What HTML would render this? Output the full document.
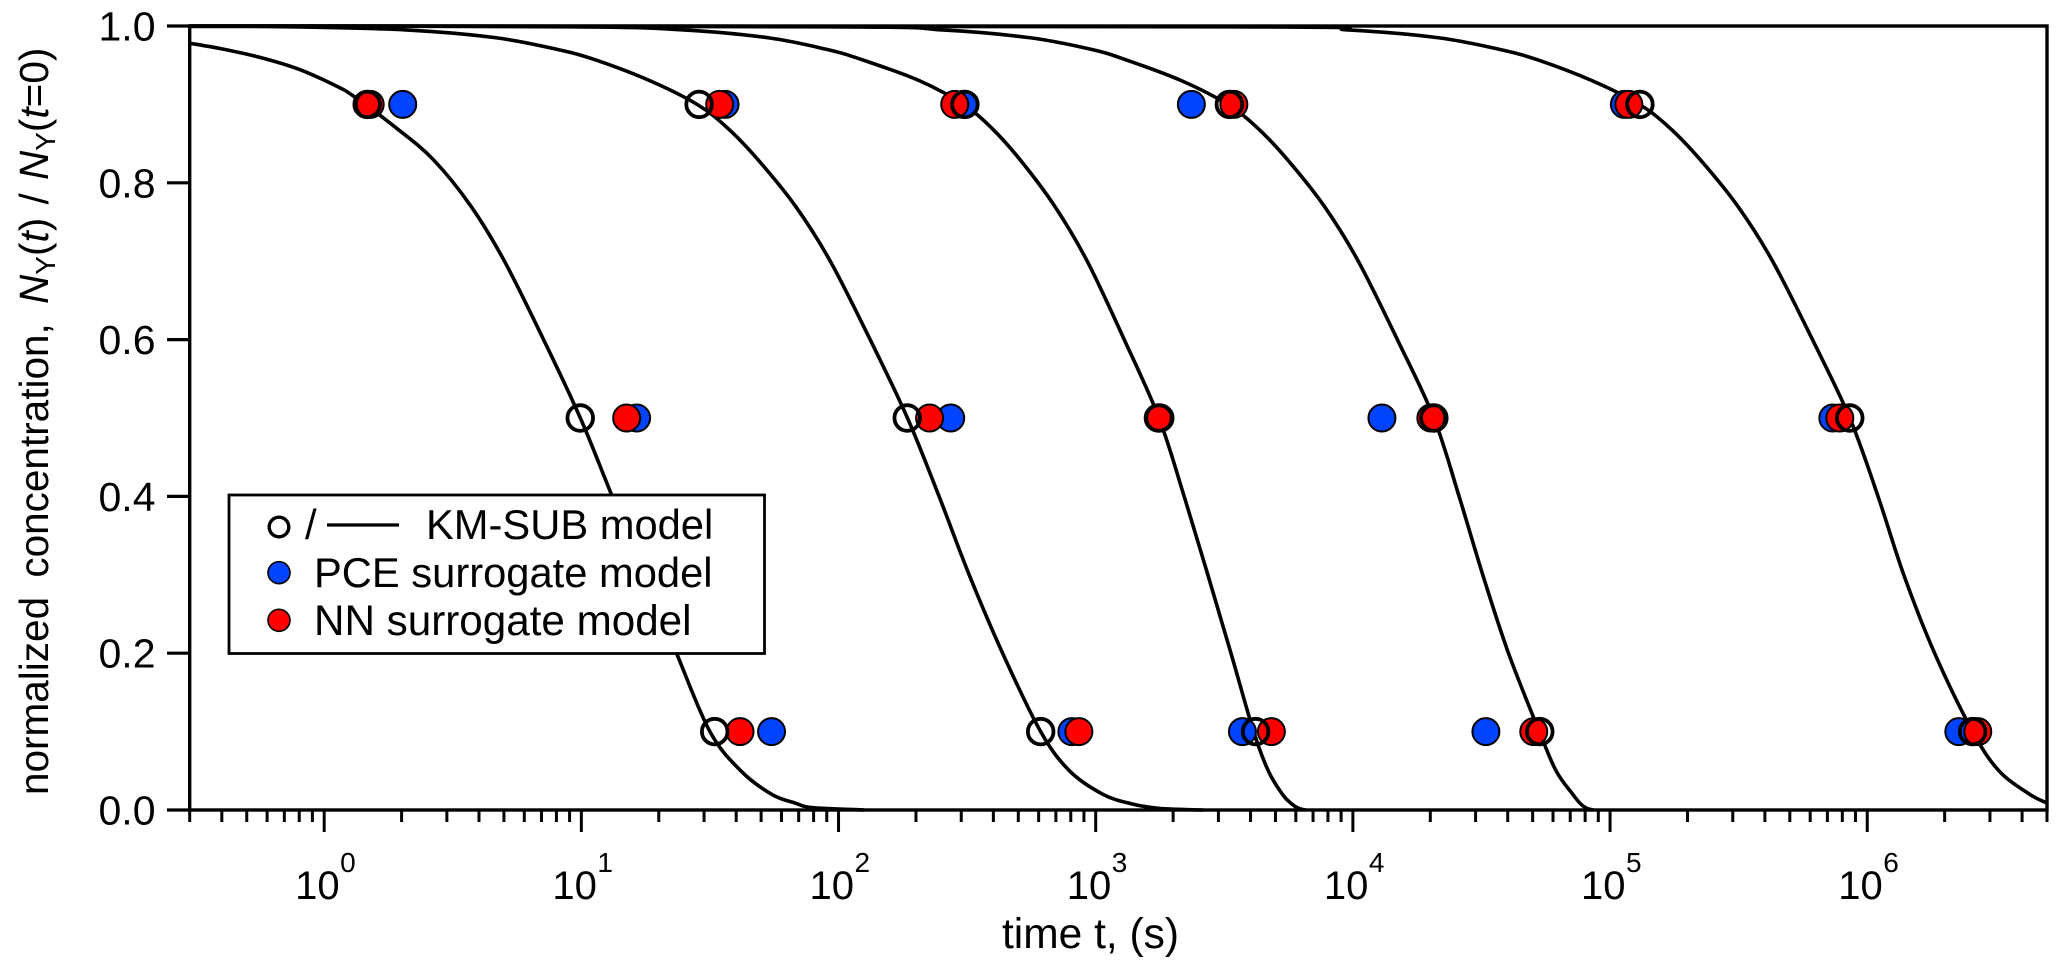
<!DOCTYPE html>
<html>
<head>
<meta charset="utf-8">
<title>Normalized concentration vs time</title>
<style>
html,body{margin:0;padding:0;background:#fff;}
svg{display:block;}
text{font-family:"Liberation Sans",Arial,sans-serif;fill:#000;white-space:pre;}
</style>
</head>
<body>
<svg id="chart" xmlns="http://www.w3.org/2000/svg" width="2067" height="969" viewBox="0 0 2067 969">
  <rect x="0" y="0" width="2067" height="969" fill="#fff"/>
  <g id="curves"></g>
  <g id="axes"></g>
  <g id="points"></g>
  <text x="1002" y="948" font-size="42.5">time t, (s)</text>
  <text transform="translate(48,795) rotate(-90)" font-size="40.5" word-spacing="8">normalized concentration, <tspan word-spacing="2"><tspan font-style="italic">N</tspan><tspan font-size="28" dy="7">Y</tspan><tspan dy="-7">(</tspan><tspan font-style="italic">t</tspan>) / <tspan font-style="italic">N</tspan><tspan font-size="28" dy="7">Y</tspan><tspan dy="-7">(</tspan><tspan font-style="italic">t</tspan>=0)</tspan></text>
  <g>
    <rect x="229" y="495" width="535.5" height="158.5" fill="#fff" stroke="#000" stroke-width="2.8"/>
    <circle cx="279" cy="527" r="9.8" fill="none" stroke="#000" stroke-width="3.4"/>
    <text x="305" y="539" font-size="41.7">/</text>
    <line x1="327" y1="525" x2="399" y2="525" stroke="#000" stroke-width="3.2"/>
    <text x="426" y="539" font-size="41.7">KM-SUB model</text>
    <circle cx="279" cy="572.7" r="11" fill="#0044ff" stroke="#000" stroke-width="1.6"/>
    <text x="314" y="587" font-size="41.7">PCE surrogate model</text>
    <circle cx="279" cy="620.3" r="11" fill="#ff0000" stroke="#000" stroke-width="1.6"/>
    <text x="314" y="635" font-size="42.2">NN surrogate model</text>
  </g>
</svg>
<script>
// ---------- data ----------
const yTickValues = [0, 0.2, 0.4, 0.6, 0.8, 1.0];
const yTickLabels = ["0.0", "0.2", "0.4", "0.6", "0.8", "1.0"];
const xDecadeExponents = [0, 1, 2, 3, 4, 5, 6];
const xMinorMultipliers = [2, 3, 4, 5, 6, 7, 8, 9];
const xDomain = [0.3, 5e6];
const yDomain = [0, 1];

// KM-SUB curves: log10(time) and normalized concentration
const curve1LogT = [-0.523, -0.4, -0.25, -0.1, 0.05, 0.112, 0.28, 0.426, 0.571, 0.701, 0.853, 0.996, 1.12, 1.245, 1.37, 1.5, 1.62, 1.74, 1.83, 1.9, 2.1];
const curve1Conc = [0.978, 0.971, 0.96, 0.945, 0.923, 0.911, 0.87, 0.829, 0.77, 0.7, 0.6, 0.5, 0.4, 0.3, 0.2, 0.1, 0.05, 0.02, 0.009, 0.003, 0];
const curve2LogT = [-0.523, -0.132, 0.318, 0.668, 0.908, 1.057, 1.268, 1.45, 1.568, 1.688, 1.833, 1.968, 2.123, 2.268, 2.391, 2.508, 2.638, 2.786, 2.898, 3.028, 3.138, 3.248, 3.418];
const curve2Conc = [0.9995, 0.999, 0.995, 0.985, 0.97, 0.9566, 0.93, 0.9, 0.87, 0.829, 0.77, 0.7, 0.6, 0.5, 0.4, 0.3, 0.2, 0.1, 0.05, 0.02, 0.008, 0.002, 0];
const curve3LogT = [-0.523, 0.966, 1.396, 1.726, 1.956, 2.095, 2.316, 2.485, 2.595, 2.707, 2.841, 2.967, 3.111, 3.246, 3.344, 3.436, 3.526, 3.614, 3.671, 3.726, 3.761, 3.79, 3.816];
const curve3Conc = [1, 0.999, 0.995, 0.985, 0.97, 0.9566, 0.93, 0.9, 0.87, 0.829, 0.77, 0.7, 0.6, 0.5, 0.4, 0.3, 0.2, 0.1, 0.05, 0.02, 0.008, 0.002, 0];
const curve4LogT = [-0.523, 1.965, 2.405, 2.745, 2.985, 3.12, 3.335, 3.513, 3.629, 3.747, 3.889, 4.021, 4.173, 4.315, 4.413, 4.505, 4.605, 4.725, 4.79, 4.855, 4.885, 4.91, 4.935];
const curve4Conc = [1, 0.999, 0.995, 0.985, 0.97, 0.9566, 0.93, 0.9, 0.87, 0.829, 0.77, 0.7, 0.6, 0.5, 0.4, 0.3, 0.2, 0.1, 0.05, 0.02, 0.008, 0.002, 0];
const curve5LogT = [-0.523, 3.532, 3.982, 4.332, 4.572, 4.721, 4.932, 5.114, 5.232, 5.352, 5.497, 5.632, 5.787, 5.932, 6.042, 6.142, 6.262, 6.41, 6.512, 6.632, 6.698];
const curve5Conc = [1, 0.999, 0.995, 0.985, 0.97, 0.9566, 0.93, 0.9, 0.87, 0.829, 0.77, 0.7, 0.6, 0.5, 0.4, 0.3, 0.2, 0.1, 0.05, 0.02, 0.009];

// Scatter rows: concentration level and time (s) for each group, per model
const pointLevels = [0.9, 0.5, 0.1];
const pceTimes = [
  [2.02, 36.2, 306, 2355, 113700],
  [16.4, 273, 1750, 12970, 735000],
  [54.9, 808, 3720, 32900, 2270000]
];
const nnTimes = [
  [1.51, 34.5, 283, 3445, 118300],
  [15, 226, 1778, 20100, 782000],
  [41.4, 860, 4820, 50500, 2690000]
];
const kmSubTimes = [
  [1.47, 28.7, 310, 3310, 130600],
  [9.9, 185, 1762, 20650, 855000],
  [33, 611, 4185, 53300, 2570000]
];

// ---------- scales ----------
const NS = "http://www.w3.org/2000/svg";
const plotLeft = 189.7, plotRight = 2047, plotTop = 26, plotBottom = 810;
const logMin = Math.log10(xDomain[0]), logMax = Math.log10(xDomain[1]);
function xFromLog(l) { return plotLeft + (l - logMin) / (logMax - logMin) * (plotRight - plotLeft); }
function xScale(t) { return xFromLog(Math.log10(t)); }
function yScale(v) { return plotBottom - (v - yDomain[0]) / (yDomain[1] - yDomain[0]) * (plotBottom - plotTop); }
function make(tag, attrs, parent) {
  const el = document.createElementNS(NS, tag);
  for (const k in attrs) el.setAttribute(k, attrs[k]);
  parent.appendChild(el);
  return el;
}

// ---------- curves ----------
const curvesGroup = document.getElementById("curves");
function smoothPath(pts) {
  let d = "M" + pts[0][0].toFixed(2) + " " + pts[0][1].toFixed(2);
  for (let i = 0; i < pts.length - 1; i++) {
    const p0 = pts[Math.max(i - 1, 0)], p1 = pts[i], p2 = pts[i + 1], p3 = pts[Math.min(i + 2, pts.length - 1)];
    const c1x = p1[0] + (p2[0] - p0[0]) / 6, c1y = Math.max(plotTop, Math.min(plotBottom, p1[1] + (p2[1] - p0[1]) / 6));
    const c2x = p2[0] - (p3[0] - p1[0]) / 6, c2y = Math.max(plotTop, Math.min(plotBottom, p2[1] - (p3[1] - p1[1]) / 6));
    d += "C" + c1x.toFixed(2) + " " + c1y.toFixed(2) + " " + c2x.toFixed(2) + " " + c2y.toFixed(2) + " " + p2[0].toFixed(2) + " " + p2[1].toFixed(2);
  }
  return d;
}
const curveSeries = [[curve1LogT, curve1Conc], [curve2LogT, curve2Conc], [curve3LogT, curve3Conc], [curve4LogT, curve4Conc], [curve5LogT, curve5Conc]];
curveSeries.forEach(function (series, idx) {
  const pts = series[0].map(function (l, i) { return [xFromLog(l), yScale(series[1][i])]; });
  const path = make("path", { d: smoothPath(pts), fill: "none", stroke: "#000", "stroke-width": 3.6 }, curvesGroup);
  
  
});

// ---------- axes ----------
const axesGroup = document.getElementById("axes");
const frame = make("rect", { x: plotLeft, y: plotTop, width: plotRight - plotLeft, height: plotBottom - plotTop, fill: "none", stroke: "#000", "stroke-width": 3.4 }, axesGroup);



yTickValues.forEach(function (v, i) {
  const y = yScale(v);
  const tick = make("line", { x1: 167, y1: y, x2: plotLeft, y2: y, stroke: "#000", "stroke-width": 3.2 }, axesGroup);
  
  
  const label = make("text", { x: 155.5, y: y + 14.5, "font-size": 41, "text-anchor": "end" }, axesGroup);
  
  
  label.textContent = yTickLabels[i];
});

function minorTick(t) {
  const x = xScale(t);
  const tick = make("line", { x1: x, y1: plotBottom, x2: x, y2: 822, stroke: "#000", "stroke-width": 3 }, axesGroup);
  
  
}
[-1].concat(xDecadeExponents).forEach(function (e) {
  xMinorMultipliers.forEach(function (m) {
    const t = m * Math.pow(10, e);
    if (t >= xDomain[0] * 0.999 && t <= xDomain[1] * 1.001) minorTick(t);
  });
});
xDecadeExponents.forEach(function (e) {
  const x = xScale(Math.pow(10, e));
  const tick = make("line", { x1: x, y1: plotBottom, x2: x, y2: 832, stroke: "#000", "stroke-width": 3 }, axesGroup);
  
  
  const base = make("text", { x: x - 29, y: 899, "font-size": 40 }, axesGroup);
  
  
  base.textContent = "10";
  const sup = make("text", { x: x + 16, y: 872, "font-size": 28 }, axesGroup);
  
  
  sup.textContent = String(e);
});

// ---------- points ----------
const pointsGroup = document.getElementById("points");
pointLevels.forEach(function (level, row) {
  pceTimes[row].forEach(function (t) {
    const c = make("circle", { cx: xScale(t), cy: yScale(level), r: 13.5, fill: "#0044ff", stroke: "#000", "stroke-width": 2 }, pointsGroup);
    
    
  });
});
pointLevels.forEach(function (level, row) {
  nnTimes[row].forEach(function (t) {
    const c = make("circle", { cx: xScale(t), cy: yScale(level), r: 13.5, fill: "#ff0000", stroke: "#000", "stroke-width": 2 }, pointsGroup);
    
    
  });
});
pointLevels.forEach(function (level, row) {
  kmSubTimes[row].forEach(function (t) {
    const c = make("circle", { cx: xScale(t), cy: yScale(level), r: 12.8, fill: "none", stroke: "#000", "stroke-width": 3.8 }, pointsGroup);
    
    
  });
});
</script>
</body>
</html>
